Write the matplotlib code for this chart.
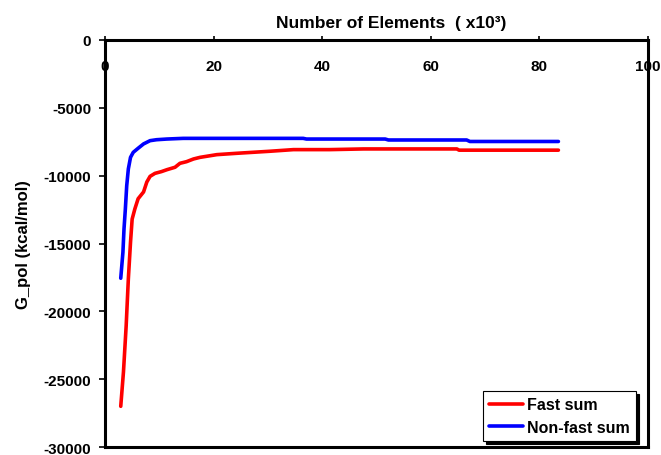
import matplotlib
matplotlib.use("Agg")
import matplotlib.pyplot as plt

plt.rcParams['font.family'] = ['Liberation Sans', 'DejaVu Sans']
plt.rcParams['font.weight'] = 'bold'

# Data (x in thousands of elements, G_pol in kcal/mol)
fast_x = [2.9, 3.4, 3.9, 4.3, 4.7, 5.0, 5.5, 6.1, 7.1, 7.7, 8.3, 9.2, 10.4, 11.4,
          12.9, 13.8, 15.0, 16.3, 17.5, 20.6, 24.3, 30.4, 34.7, 41.4, 47.6, 64.8, 65.2, 83.5]
fast_y = [-27000, -24470, -21050, -17600, -14900, -13200, -12450, -11700, -11200,
          -10470, -10050, -9830, -9700, -9560, -9380, -9090, -8970, -8770, -8650,
          -8450, -8350, -8200, -8080, -8080, -8030, -8030, -8120, -8120]

nonfast_x = [2.9, 3.3, 3.5, 3.75, 4.0, 4.3, 4.7, 5.2, 6.1, 7.1, 8.3, 9.5, 11.4,
             14.4, 36.5, 37.1, 51.6, 52.2, 66.6, 67.2, 83.5]
nonfast_y = [-17560, -15650, -13930, -12450, -10740, -9500, -8650, -8280, -7980,
             -7660, -7420, -7350, -7300, -7250, -7250, -7300, -7300, -7370, -7370,
             -7480, -7480]

x_ticks = [0, 20, 40, 60, 80, 100]
y_ticks = [0, -5000, -10000, -15000, -20000, -25000, -30000]

fig = plt.figure(figsize=(6.61, 4.56), dpi=100)
ax = fig.add_axes([105/661, 1 - 448/456, (648-105)/661, (448-41)/456])

ax.plot(fast_x, fast_y, color='#ff0000', lw=2.6, label='Fast sum', solid_capstyle='round')
ax.plot(nonfast_x, nonfast_y, color='#0000ff', lw=2.6, label='Non-fast sum', solid_capstyle='round')

ax.set_xlim(0, 100)
ax.set_ylim(-30000, 0)
ax.set_xticks(x_ticks)
ax.set_yticks(y_ticks)
ax.set_xticklabels([str(v) for v in x_ticks])
ax.set_yticklabels([str(v) for v in y_ticks])

ax.xaxis.tick_top()
ax.tick_params(axis='x', direction='out', length=3, width=1.2, pad=-27, labelsize=11)
ax.tick_params(axis='y', direction='out', length=4, width=1.2, pad=6, labelsize=11)
for lab in ax.get_xticklabels() + ax.get_yticklabels():
    lab.set_fontweight('bold')

for s in ax.spines.values():
    s.set_linewidth(2.2)
    s.set_color('black')

fig.text(391/661, 1 - 24/456, 'Number of Elements  ( x10³)', ha='center', va='center',
         fontsize=12.5, fontweight='bold')
ax.set_ylabel('G_pol (kcal/mol)', fontsize=12, fontweight='bold', labelpad=9)

leg = ax.legend(loc='lower right',
                frameon=True, fancybox=False, edgecolor='black', framealpha=1,
                shadow={'color': 'black', 'alpha': 1},
                prop={'weight': 'bold', 'size': 11.5}, handlelength=2.1,
                handletextpad=0.25, borderpad=0.4, labelspacing=0.45, borderaxespad=0)
leg.get_frame().set_linewidth(0.8)
leg.set_bbox_to_anchor((636/661, 1 - 442/456), transform=fig.transFigure)

fig.savefig('out.png', dpi=100)
